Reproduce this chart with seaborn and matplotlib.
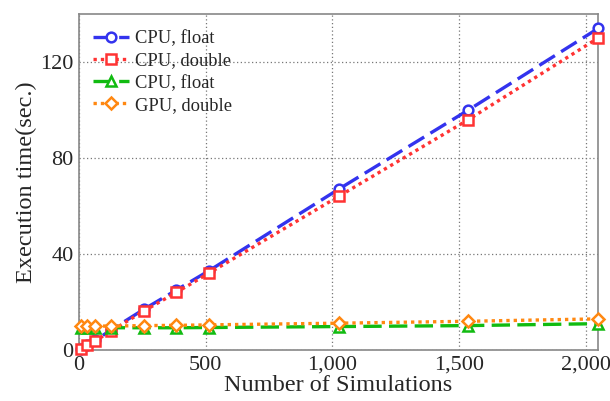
import matplotlib
matplotlib.use("Agg")
import matplotlib.pyplot as plt
import matplotlib.ticker as mticker
import seaborn as sns
import pandas as pd

sims = [8, 32, 64, 128, 256, 384, 512, 1024, 1536, 2048]
cpu_float = [0.5, 2, 4, 8.5, 17, 25, 33, 67, 100, 134]
cpu_double = [0.5, 2, 3.8, 8, 16.3, 24, 32, 64, 96, 130]
gpu_float = [9.3, 9.3, 9.3, 9.3, 9.3, 9.3, 9.4, 9.8, 10.2, 11]
gpu_double = [10, 10, 10, 10, 10.2, 10.3, 10.5, 11.2, 12, 13]
labels = ["CPU, float", "CPU, double", "CPU, float", "GPU, double"]
x_ticks = [0, 500, 1000, 1500, 2000]
y_ticks = [0, 40, 80, 120]

sns.set_theme(style="white")
plt.rcParams['font.family'] = ['Liberation Serif', 'DejaVu Serif']

fig = plt.figure(figsize=(6.1, 4.01), dpi=100)
ax = fig.add_axes([0.1295, 0.127, 0.851, 0.838])

series = [cpu_float, cpu_double, gpu_float, gpu_double]
colors = ["#3333ee", "#ff3333", "#11bb11", "#ff8811"]
markers = ["o", "s", "^", "D"]
dashes = [(5.5, 2.2), (1, 1.2), (5.5, 2.2), (1, 1.2)]
msizes = [7, 6.5, 7, 6.5]

for vals, lab, c, m, d, ms in zip(series, labels, colors, markers, dashes, msizes):
    df = pd.DataFrame({"x": sims, "y": vals})
    sns.lineplot(data=df, x="x", y="y", ax=ax, color=c, marker=m, markersize=ms,
                 markerfacecolor="white", markeredgecolor=c, markeredgewidth=1.8,
                 linewidth=2.4, label=lab, clip_on=False, zorder=3)

for ln, d in zip(ax.get_lines(), dashes):
    ln.set_dashes(d)

ax.set_xlim(0, 2048)
ax.set_ylim(0, 140)
ax.set_xticks(x_ticks)
ax.set_yticks(y_ticks)
ax.xaxis.set_major_formatter(mticker.FuncFormatter(lambda v, p: f"{int(v):,}"))
ax.grid(True, linestyle=(0, (1, 2)), color="#777777", linewidth=0.9)
for s in ax.spines.values():
    s.set_color("#888888")
    s.set_linewidth(1.2)
ax.tick_params(axis="both", labelsize=16, length=3, direction="in", color="#888888", pad=4)
ax.set_xlabel("Number of Simulations", fontsize=17.5, labelpad=0)
ax.set_ylabel("Execution time(sec.)", fontsize=17.5, labelpad=2)

leg = ax.legend(loc="upper left", frameon=False, fontsize=13.3, handlelength=1.9,
                borderaxespad=0.3, labelspacing=0.28, handletextpad=0.35,
                bbox_to_anchor=(0.003, 0.99))
for h, d in zip(leg.get_lines(), dashes):
    h.set_dashes(d)

fig.savefig("out.png", dpi=100)
